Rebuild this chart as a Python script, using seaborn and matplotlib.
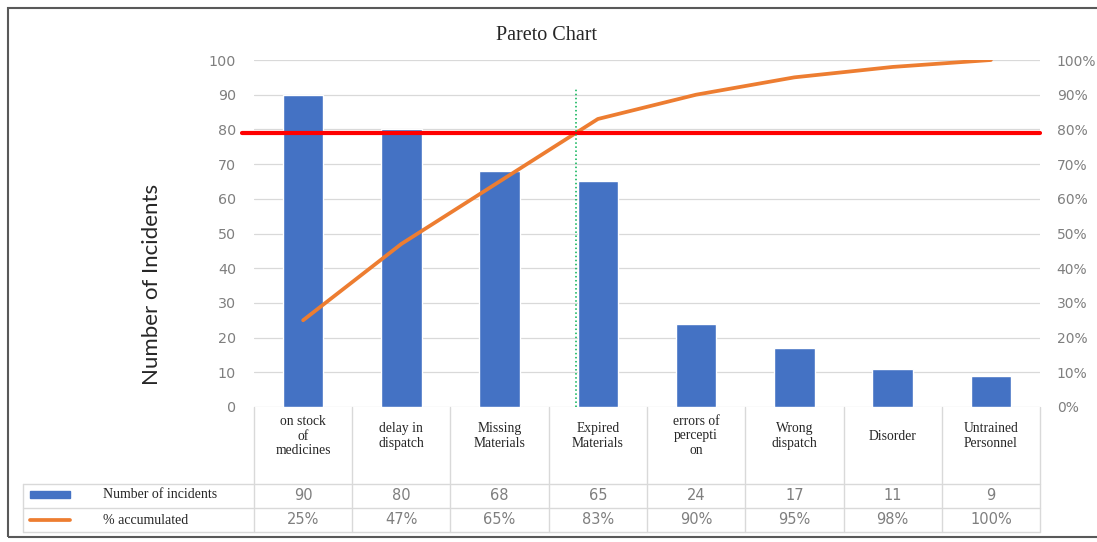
import numpy as np
import matplotlib
matplotlib.use("Agg")
import matplotlib.pyplot as plt
import matplotlib.transforms as mtransforms
from matplotlib.patches import Rectangle
from matplotlib.lines import Line2D
import seaborn as sns

# data
categories = ["on stock\nof\nmedicines", "delay in\ndispatch", "Missing\nMaterials",
              "Expired\nMaterials", "errors of\npercepti\non", "Wrong\ndispatch",
              "Disorder", "Untrained\nPersonnel"]
incidents = [90, 80, 68, 65, 24, 17, 11, 9]
cum_pct = [25, 47, 65, 83, 90, 95, 98, 100]
threshold = 79

sns.set_style("white")
plt.rcParams["font.family"] = ["DejaVu Sans"]

W, H = 1097, 542
fig = plt.figure(figsize=(W / 100, H / 100), dpi=100)
ax = fig.add_axes([254 / W, 1 - 407 / H, (1040 - 254) / W, 347 / H])

blue = "#4472C4"
orange = "#ED7D31"
grey_txt = "#7f7f7f"
serif = "Liberation Serif"

pos = np.arange(len(categories))
sns.barplot(x=pos, y=incidents, color=blue, width=0.41, saturation=1, ax=ax)
ax.set_xlim(-0.5, len(categories) - 0.5)
ax.set_ylim(0, 100)
ax.set_yticks(range(0, 101, 10))
ax.set_xticks([])
ax.set_xlabel("")
ax.set_ylabel("")
ax.grid(axis="y", color="#d9d9d9", lw=0.9)
ax.set_axisbelow(True)
for s in ax.spines.values():
    s.set_visible(False)
ax.tick_params(axis="y", length=0, labelsize=10.3, labelcolor=grey_txt, pad=13)

ax2 = ax.twinx()
sns.lineplot(x=pos, y=cum_pct, color=orange, lw=2.7, ax=ax2)
ax2.set_ylim(0, 100)
ax2.set_yticks(range(0, 101, 10))
ax2.set_yticklabels([f"{v}%" for v in range(0, 101, 10)])
ax2.tick_params(axis="y", length=0, labelsize=10, labelcolor=grey_txt, pad=12)
ax2.set_ylabel("")
for s in ax2.spines.values():
    s.set_visible(False)

# 80/20 threshold line and crossing marker
ax2.plot([-0.62, 7.5], [threshold, threshold], color="red", lw=3, clip_on=False, zorder=5)
cross_x = np.interp(threshold, cum_pct, pos)
ax2.plot([cross_x, cross_x], [0, 92], color="#00b050", lw=1.1, ls=":", zorder=6)


def fy(py):
    return 1 - py / H


fig.text(152 / W, fy(284), "Number of Incidents", fontsize=16, family="Lato",
         rotation=90, ha="center", va="center")
fig.text(547 / W, fy(35), "Pareto Chart", family=serif, fontsize=14.5, ha="center", va="center")

# table below the chart
bt = mtransforms.blended_transform_factory(ax.transData, fig.transFigure)
gcol = "#d9d9d9"
for i in range(len(categories) + 1):
    x = i - 0.5
    fig.add_artist(Line2D([x, x], [fy(407), fy(532)], transform=bt, color=gcol, lw=1))
for py in [484, 508, 532]:
    fig.add_artist(Line2D([23 / W, 1040 / W], [fy(py), fy(py)], color=gcol, lw=1))
fig.add_artist(Line2D([23 / W, 23 / W], [fy(484), fy(532)], color=gcol, lw=1))

for i, lab in enumerate(categories):
    fig.text(i, fy(436), lab, transform=bt, ha="center", va="center",
             family=serif, fontsize=9.8, linespacing=1.15)
    fig.text(i, fy(495), str(incidents[i]), transform=bt, ha="center", va="center",
             fontsize=10.5, color=grey_txt)
    fig.text(i, fy(520), f"{cum_pct[i]}%", transform=bt, ha="center", va="center",
             fontsize=10.5, color=grey_txt)

fig.add_artist(Rectangle((30 / W, fy(498)), 40 / W, 7 / H, color=blue))
fig.add_artist(Line2D([30 / W, 70 / W], [fy(520), fy(520)], color=orange, lw=2.7))
fig.text(103 / W, fy(494), "Number of incidents", family=serif, fontsize=10, va="center")
fig.text(103 / W, fy(520), "% accumulated", family=serif, fontsize=10, va="center")

# outer frame
fig.add_artist(Rectangle((8 / W, fy(537)), 1.1, (537 - 8) / H, fill=False,
                         edgecolor="#595959", lw=1.5))

fig.savefig("out.png", dpi=100)
